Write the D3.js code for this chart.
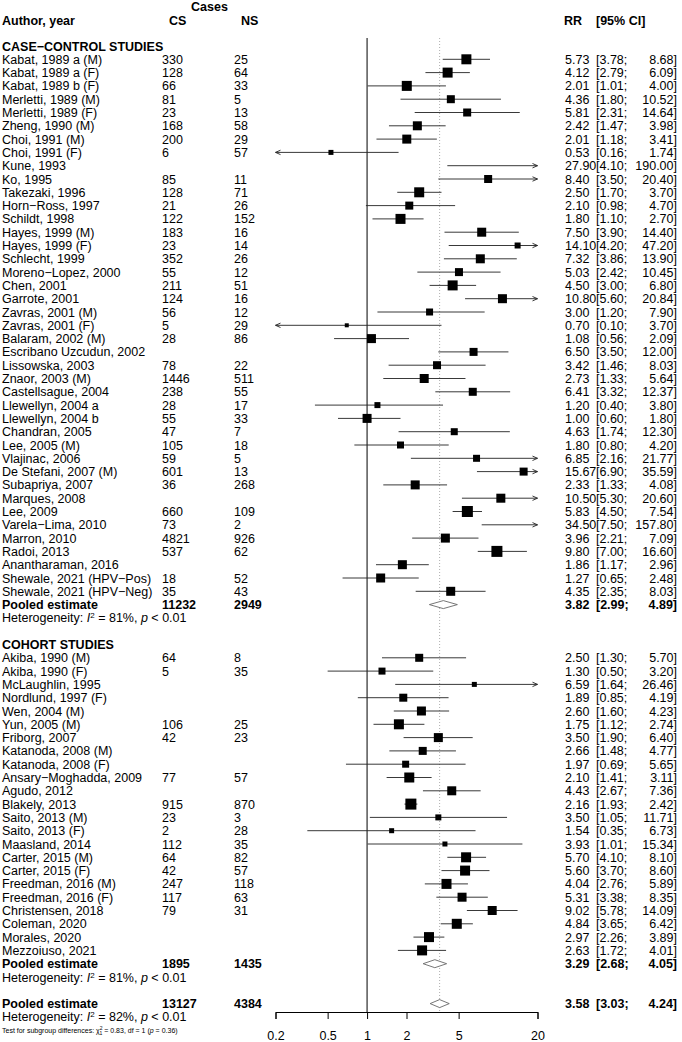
<!DOCTYPE html>
<meta charset="utf-8">
<style>
  body { margin: 0; background: #fff; }
  text { font-family: "Liberation Sans", Arial, Helvetica, sans-serif; font-size: 12.5px; fill: #000; }
  .b { font-weight: bold; }
</style>
<body>
<div id="chart"></div>
<script src="https://d3js.org/d3.v7.min.js"></script>
<script>

// ---- case-control studies ----
var ccStudy = ["Kabat, 1989 a (M)", "Kabat, 1989 a (F)", "Kabat, 1989 b (F)", "Merletti, 1989 (M)", "Merletti, 1989 (F)",
  "Zheng, 1990 (M)", "Choi, 1991 (M)", "Choi, 1991 (F)", "Kune, 1993", "Ko, 1995", "Takezaki, 1996", "Horn\u2212Ross, 1997",
  "Schildt, 1998", "Hayes, 1999 (M)", "Hayes, 1999 (F)", "Schlecht, 1999", "Moreno\u2212Lopez, 2000", "Chen, 2001",
  "Garrote, 2001", "Zavras, 2001 (M)", "Zavras, 2001 (F)", "Balaram, 2002 (M)", "Escribano Uzcudun, 2002", "Lissowska, 2003",
  "Znaor, 2003 (M)", "Castellsague, 2004", "Llewellyn, 2004 a", "Llewellyn, 2004 b", "Chandran, 2005", "Lee, 2005 (M)",
  "Vlajinac, 2006", "De Stefani, 2007 (M)", "Subapriya, 2007", "Marques, 2008", "Lee, 2009", "Varela\u2212Lima, 2010",
  "Marron, 2010", "Radoi, 2013", "Anantharaman, 2016", "Shewale, 2021 (HPV\u2212Pos)", "Shewale, 2021 (HPV\u2212Neg)"];
var ccCS = [330, 128, 66, 81, 23, 168, 200, 6, null, 85, 128, 21, 122, 183, 23, 352, 55, 211, 124, 56, 5, 28, null, 78,
  1446, 238, 28, 55, 47, 105, 59, 601, 36, null, 660, 73, 4821, 537, null, 18, 35];
var ccNS = [25, 64, 33, 5, 13, 58, 29, 57, null, 11, 71, 26, 152, 16, 14, 26, 12, 51, 16, 12, 29, 86, null, 22,
  511, 55, 17, 33, 7, 18, 5, 13, 268, null, 109, 2, 926, 62, null, 52, 43];
var ccRR = [5.73, 4.12, 2.01, 4.36, 5.81, 2.42, 2.01, 0.53, 27.90, 8.40, 2.50, 2.10, 1.80, 7.50, 14.10, 7.32, 5.03, 4.50,
  10.80, 3.00, 0.70, 1.08, 6.50, 3.42, 2.73, 6.41, 1.20, 1.00, 4.63, 1.80, 6.85, 15.67, 2.33, 10.50, 5.83, 34.50,
  3.96, 9.80, 1.86, 1.27, 4.35];
var ccLo = [3.78, 2.79, 1.01, 1.80, 2.31, 1.47, 1.18, 0.16, 4.10, 3.50, 1.70, 0.98, 1.10, 3.90, 4.20, 3.86, 2.42, 3.00,
  5.60, 1.20, 0.10, 0.56, 3.50, 1.46, 1.33, 3.32, 0.40, 0.60, 1.74, 0.80, 2.16, 6.90, 1.33, 5.30, 4.50, 7.50,
  2.21, 7.00, 1.17, 0.65, 2.35];
var ccHi = [8.68, 6.09, 4.00, 10.52, 14.64, 3.98, 3.41, 1.74, 190.00, 20.40, 3.70, 4.70, 2.70, 14.40, 47.20, 13.90, 10.45, 6.80,
  20.84, 7.90, 3.70, 2.09, 12.00, 8.03, 5.64, 12.37, 3.80, 1.80, 12.30, 4.20, 21.77, 35.59, 4.08, 20.60, 7.54, 157.80,
  7.09, 16.60, 2.96, 2.48, 8.03];
// square side (px) as it appears in the picture
var ccSize = [10, 10, 10, 8, 8, 9, 9, 5, 0, 8, 10, 8, 10, 9, 6, 9, 8, 10, 9, 7, 4, 9, 8, 8, 9, 8, 6, 9, 7, 7, 7, 8,
  9, 9, 11, 0, 9, 11, 9, 9, 9];
var ccPooled = [3.82, 2.99, 4.89];
var ccPooledN = [11232, 2949];

// ---- cohort studies ----
var coStudy = ["Akiba, 1990 (M)", "Akiba, 1990 (F)", "McLaughlin, 1995", "Nordlund, 1997 (F)", "Wen, 2004 (M)", "Yun, 2005 (M)",
  "Friborg, 2007", "Katanoda, 2008 (M)", "Katanoda, 2008 (F)", "Ansary\u2212Moghadda, 2009", "Agudo, 2012", "Blakely, 2013",
  "Saito, 2013 (M)", "Saito, 2013 (F)", "Maasland, 2014", "Carter, 2015 (M)", "Carter, 2015 (F)", "Freedman, 2016 (M)",
  "Freedman, 2016 (F)", "Christensen, 2018", "Coleman, 2020", "Morales, 2020", "Mezzoiuso, 2021"];
var coCS = [64, 5, null, null, null, 106, 42, null, null, 77, null, 915, 23, 2, 112, 64, 42, 247, 117, 79, null, null, null];
var coNS = [8, 35, null, null, null, 25, 23, null, null, 57, null, 870, 3, 28, 35, 82, 57, 118, 63, 31, null, null, null];
var coRR = [2.50, 1.30, 6.59, 1.89, 2.60, 1.75, 3.50, 2.66, 1.97, 2.10, 4.43, 2.16, 3.50, 1.54, 3.93, 5.70, 5.60, 4.04,
  5.31, 9.02, 4.84, 2.97, 2.63];
var coLo = [1.30, 0.50, 1.64, 0.85, 1.60, 1.12, 1.90, 1.48, 0.69, 1.41, 2.67, 1.93, 1.05, 0.35, 1.01, 4.10, 3.70, 2.76,
  3.38, 5.78, 3.65, 2.26, 1.72];
var coHi = [5.70, 3.20, 26.46, 4.19, 4.23, 2.74, 6.40, 4.77, 5.65, 3.11, 7.36, 2.42, 11.71, 6.73, 15.34, 8.10, 8.60, 5.89,
  8.35, 14.09, 6.42, 3.89, 4.01];
var coSize = [8, 7, 5, 8, 9, 10, 9, 8, 7, 10, 9, 11, 6, 5, 5, 10, 10, 10, 9, 9, 10, 10, 10];
var coPooled = [3.29, 2.68, 4.05];
var coPooledN = [1895, 1435];

// ---- overall ----
var allPooled = [3.58, 3.03, 4.24];
var allPooledN = [13127, 4384];
var hetI2 = ["81%", "81%", "82%"];
var xTicks = [0.2, 0.5, 1, 2, 5, 20];

var width = 682, height = 1042;
var f2 = d3.format(".2f");

var svg = d3.select("#chart").append("svg")
  .attr("width", width)
  .attr("height", height);

var x = d3.scaleLog().domain([0.2, 20]).range([275.5, 537.5]);
var y = d3.scaleLinear().domain([0, 74]).range([46, 46 + 74 * 13.3]);

var colCS = 162, colNS = 234, colRR = 565, colCI = 596, colCIend = 677;

function txt(xp, yp, s, cls, anchor) {
  return svg.append("text")
    .attr("x", xp).attr("y", yp + 4.5)
    .attr("class", cls || null)
    .attr("text-anchor", anchor || "start")
    .text(s);
}

// column headers
txt(191, 6, "Cases", "b");
txt(2, 20, "Author, year", "b");
txt(169, 20, "CS", "b");
txt(241, 20, "NS", "b");
txt(564, 20, "RR", "b");
txt(596, 20, "[95% CI]", "b");

// reference lines
var axisY = 1012;
svg.append("line")
  .attr("x1", x(1)).attr("x2", x(1))
  .attr("y1", 38).attr("y2", axisY)
  .attr("stroke", "#000").attr("stroke-width", 1);
svg.append("line")
  .attr("x1", x(allPooled[0])).attr("x2", x(allPooled[0]))
  .attr("y1", 38).attr("y2", axisY)
  .attr("stroke", "#999").attr("stroke-width", 0.8)
  .attr("stroke-dasharray", "1,2");

function ciText(k, rr, lo, hi, cls) {
  txt(colRR, y(k), f2(rr), cls);
  txt(colCI, y(k), "[" + f2(lo) + ";", cls);
  txt(colCIend, y(k), f2(hi) + "]", cls, "end");
}

function study(k, name, cs, ns, rr, lo, hi, size) {
  txt(2, y(k), name);
  if (cs != null) txt(colCS, y(k), cs);
  if (ns != null) txt(colNS, y(k), ns);
  ciText(k, rr, lo, hi);

  var yy = y(k);
  var x1 = x(Math.max(lo, 0.2)), x2 = x(Math.min(hi, 20));
  svg.append("line")
    .attr("x1", x1).attr("x2", x2)
    .attr("y1", yy).attr("y2", yy)
    .attr("stroke", "#222").attr("stroke-width", 0.9);
  if (lo < 0.2) {
    svg.append("path")
      .attr("d", "M" + (x1 + 5) + "," + (yy - 2.2) + "L" + x1 + "," + yy + "L" + (x1 + 5) + "," + (yy + 2.2))
      .attr("fill", "none").attr("stroke", "#222").attr("stroke-width", 0.9);
  }
  if (hi > 20) {
    svg.append("path")
      .attr("d", "M" + (x2 - 5) + "," + (yy - 2.2) + "L" + x2 + "," + yy + "L" + (x2 - 5) + "," + (yy + 2.2))
      .attr("fill", "none").attr("stroke", "#222").attr("stroke-width", 0.9);
  }
  if (rr >= 0.2 && rr <= 20 && size > 0) {
    svg.append("rect")
      .attr("x", x(rr) - size / 2).attr("y", yy - size / 2)
      .attr("width", size).attr("height", size)
      .attr("fill", "#000");
  }
}

function diamond(k, est) {
  var yy = y(k);
  svg.append("path")
    .attr("d", "M" + x(est[1]) + "," + yy + "L" + x(est[0]) + "," + (yy - 4) +
      "L" + x(est[2]) + "," + yy + "L" + x(est[0]) + "," + (yy + 4) + "Z")
    .attr("fill", "#fff").attr("stroke", "#666").attr("stroke-width", 0.9);
}

function pooledRow(k, est, n) {
  txt(2, y(k), "Pooled estimate", "b");
  txt(colCS, y(k), n[0], "b");
  txt(colNS, y(k), n[1], "b");
  ciText(k, est[0], est[1], est[2], "b");
  diamond(k, est);
}

function hetRow(k, i2) {
  var t = txt(2, y(k), "Heterogeneity: ");
  t.append("tspan").style("font-style", "italic").text("I");
  t.append("tspan").attr("dy", -4).style("font-size", "8px").text("2");
  t.append("tspan").attr("dy", 4).text(" = " + i2 + ", ");
  t.append("tspan").style("font-style", "italic").text("p");
  t.append("tspan").text(" < 0.01");
}

// case-control block
txt(2, y(0), "CASE\u2212CONTROL STUDIES", "b");
ccStudy.forEach(function(name, i) {
  study(i + 1, name, ccCS[i], ccNS[i], ccRR[i], ccLo[i], ccHi[i], ccSize[i]);
});
pooledRow(42, ccPooled, ccPooledN);
hetRow(43, hetI2[0]);

// cohort block
txt(2, y(45), "COHORT STUDIES", "b");
coStudy.forEach(function(name, i) {
  study(i + 46, name, coCS[i], coNS[i], coRR[i], coLo[i], coHi[i], coSize[i]);
});
pooledRow(69, coPooled, coPooledN);
hetRow(70, hetI2[1]);

// overall
pooledRow(72, allPooled, allPooledN);
hetRow(73, hetI2[2]);

var tst = svg.append("text").attr("x", 2).attr("y", y(74) + 3).style("font-size", "7px");
tst.text("Test for subgroup differences: \u03c7");
tst.append("tspan").attr("dy", -3).style("font-size", "5px").text("2");
tst.append("tspan").attr("dx", -3).attr("dy", 5).style("font-size", "5px").text("1");
tst.append("tspan").attr("dy", -2).text(" = 0.83, df = 1 (");
tst.append("tspan").style("font-style", "italic").text("p");
tst.append("tspan").text(" = 0.36)");

// x axis
var axis = svg.append("g")
  .attr("transform", "translate(0," + axisY + ")")
  .call(d3.axisBottom(x).tickValues(xTicks).tickFormat(d3.format("~g")).tickSizeOuter(0).tickSize(7).tickPadding(12));
axis.select(".domain").attr("stroke", "#000");
axis.selectAll("text").style("font-size", "12.5px").style("font-family", "'Liberation Sans', Arial, sans-serif");

</script>
</body>
